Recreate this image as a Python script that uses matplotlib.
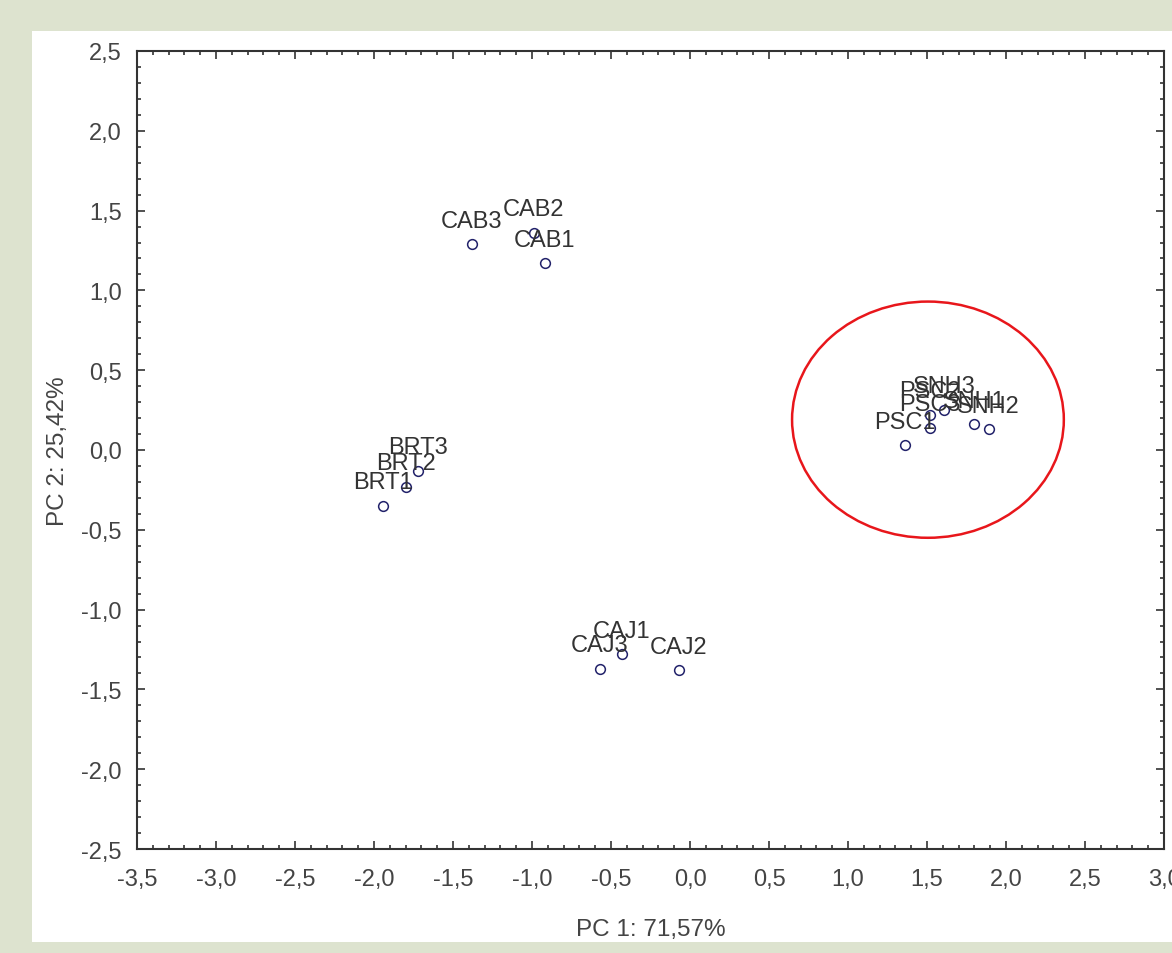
import matplotlib
matplotlib.use("Agg")
import matplotlib.pyplot as plt
from matplotlib.patches import Ellipse, Rectangle
from matplotlib.ticker import MultipleLocator, FuncFormatter

plt.rcParams['font.family'] = ['Liberation Sans', 'DejaVu Sans']

# PCA scores of the samples
samples = ['CAB1', 'CAB2', 'CAB3',
           'BRT1', 'BRT2', 'BRT3',
           'CAJ1', 'CAJ2', 'CAJ3',
           'PSC1', 'PSC2', 'PSC3',
           'SNH1', 'SNH2', 'SNH3']
pc1 = [-0.92, -0.99, -1.38,
       -1.94, -1.80, -1.72,
       -0.43, -0.07, -0.57,
       1.36, 1.52, 1.52,
       1.80, 1.89, 1.61]
pc2 = [1.17, 1.36, 1.29,
       -0.35, -0.23, -0.13,
       -1.28, -1.38, -1.37,
       0.03, 0.22, 0.14,
       0.16, 0.13, 0.25]

pc1_label = 'PC 1: 71,57%'
pc2_label = 'PC 2: 25,42%'

fig = plt.figure(figsize=(11.72, 9.54), dpi=100)
fig.patch.set_facecolor('#dde3cf')
# white panel behind the plot
panel = Rectangle((32 / 1172, 1 - 943 / 954), 1 - 32 / 1172, (943 - 32) / 954,
                  transform=fig.transFigure, facecolor='white',
                  edgecolor='none', zorder=-10)
fig.add_artist(panel)

ax = fig.add_axes([137 / 1172, 1 - 850 / 954, 1027 / 1172, 798 / 954])
ax.set_zorder(1)
ax.set_facecolor('white')

ax.plot(pc1, pc2, linestyle='none', marker='o', markersize=7,
        markerfacecolor='none', markeredgecolor='#22226a', markeredgewidth=1.1)

for name, x, y in zip(samples, pc1, pc2):
    ax.annotate(name, (x, y), xytext=(0, 17), textcoords='offset points',
                ha='center', va='center', fontsize=17, color='#333333')

# highlight the PSC / SNH cluster
ax.add_patch(Ellipse((1.506, 0.19), 1.72, 1.48, fill=False,
                     edgecolor='#e8161b', linewidth=1.8))

ax.set_xlim(-3.5, 3.0)
ax.set_ylim(-2.5, 2.5)
ax.xaxis.set_major_locator(MultipleLocator(0.5))
ax.yaxis.set_major_locator(MultipleLocator(0.5))
ax.xaxis.set_minor_locator(MultipleLocator(0.1))
ax.yaxis.set_minor_locator(MultipleLocator(0.1))

comma = FuncFormatter(lambda v, pos: f'{v:.1f}'.replace('.', ',').replace('-0,0', '0,0'))
ax.xaxis.set_major_formatter(comma)
ax.yaxis.set_major_formatter(comma)

ax.tick_params(which='both', direction='in', top=True, right=True,
               color='#333333', width=1.2)
ax.tick_params(which='major', length=6, labelsize=17, labelcolor='#444444')
ax.tick_params(which='minor', length=3)
ax.tick_params(axis='x', which='major', pad=14)
ax.tick_params(axis='y', which='major', pad=11)

for spine in ax.spines.values():
    spine.set_color('#333333')
    spine.set_linewidth(1.5)

ax.set_xlabel(pc1_label, fontsize=17.5, color='#444444', labelpad=20)
ax.set_ylabel(pc2_label, fontsize=17.5, color='#444444', labelpad=9)

fig.savefig('out.png', dpi=100, facecolor=fig.get_facecolor())
